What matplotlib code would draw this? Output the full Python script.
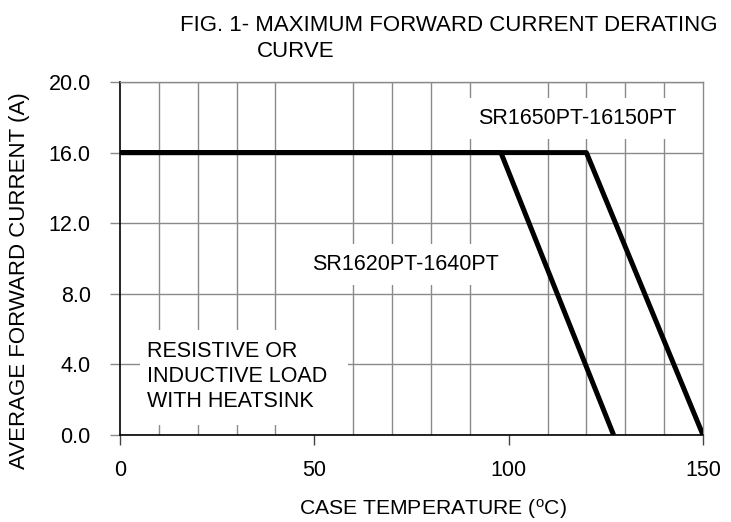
import matplotlib.pyplot as plt
import matplotlib.patches as mpatches
import numpy as np

plt.rcParams['font.family'] = ['Liberation Sans', 'DejaVu Sans']
plt.rcParams['mathtext.fontset'] = 'custom'
plt.rcParams['mathtext.rm'] = 'Liberation Sans'

# derating curves (case temperature degC, current A)
temp_1620 = [0, 98, 127]
curr_1620 = [16.0, 16.0, 0.0]
temp_1650 = [0, 120, 150]
curr_1650 = [16.0, 16.0, 0.0]

x_major = [0, 50, 100, 150]
x_grid = np.arange(0, 151, 10)
y_ticks = [0, 4, 8, 12, 16, 20]
y_labels = ['0.0', '4.0', '8.0', '12.0', '16.0', '20.0']

FS = 15.5
W, H = 731, 522
fig = plt.figure(figsize=(W/100, H/100), dpi=100)
ax = fig.add_axes([120/W, 1 - 435/H, 583/W, 353/H])

grid_c = '#8a8a8a'
ax.set_xlim(0, 150)
ax.set_ylim(0, 20)
ax.set_xticks(x_major)
ax.set_xticks(x_grid, minor=True)
ax.set_yticks(y_ticks)
ax.set_yticklabels(y_labels)
ax.tick_params(axis='x', which='major', direction='out', length=7, width=1, color='#444444', labelsize=FS, pad=11)
ax.tick_params(axis='x', which='minor', length=0)
ax.tick_params(axis='y', direction='out', length=7, width=1, color=grid_c, labelsize=FS, pad=14)
ax.grid(True, axis='x', which='minor', color=grid_c, linewidth=1)
ax.grid(True, axis='y', which='major', color=grid_c, linewidth=1)
ax.set_axisbelow(True)

for s in ['top', 'right']:
    ax.spines[s].set_color(grid_c)
    ax.spines[s].set_linewidth(1)
for s in ['left', 'bottom']:
    ax.spines[s].set_color('black')
    ax.spines[s].set_linewidth(1.2)

ax.plot(temp_1620, curr_1620, color='black', linewidth=3.6, solid_capstyle='butt', zorder=3)
ax.plot(temp_1650, curr_1650, color='black', linewidth=3.6, solid_capstyle='butt', zorder=3)

box = dict(facecolor='white', edgecolor='none', pad=7)
ax.text(92, 17.62, 'SR1650PT-16150PT', fontsize=FS, va='baseline', ha='left', bbox=box, zorder=2)
ax.text(49.4, 9.35, 'SR1620PT-1640PT', fontsize=FS, va='baseline', ha='left', bbox=box, zorder=2)

# white panel behind the load note
ax.add_patch(mpatches.Rectangle((5.2, 0.57), 53.4, 5.4, facecolor='white', edgecolor='none', zorder=1.5))
note_lines = ['RESISTIVE OR', 'INDUCTIVE LOAD', 'WITH HEATSINK']
note_base = [4.42, 3.00, 1.59]
for txt, yb in zip(note_lines, note_base):
    ax.text(6.9, yb, txt, fontsize=FS, va='baseline', ha='left', zorder=2)

fig.text(433/W, 1 - 515/H, 'CASE TEMPERATURE ($\\mathregular{^o}$C)', fontsize=15.2, va='baseline', ha='center')
fig.text(20/W, 1 - 281/H, 'AVERAGE FORWARD CURRENT (A)', fontsize=16, va='center', ha='center', rotation=90)

fig.text(180/W, 1 - 31/H, 'FIG. 1- MAXIMUM FORWARD CURRENT DERATING', fontsize=16, va='baseline', ha='left')
fig.text(257/W, 1 - 57/H, 'CURVE', fontsize=16, va='baseline', ha='left')

fig.savefig('out.png', dpi=100)
